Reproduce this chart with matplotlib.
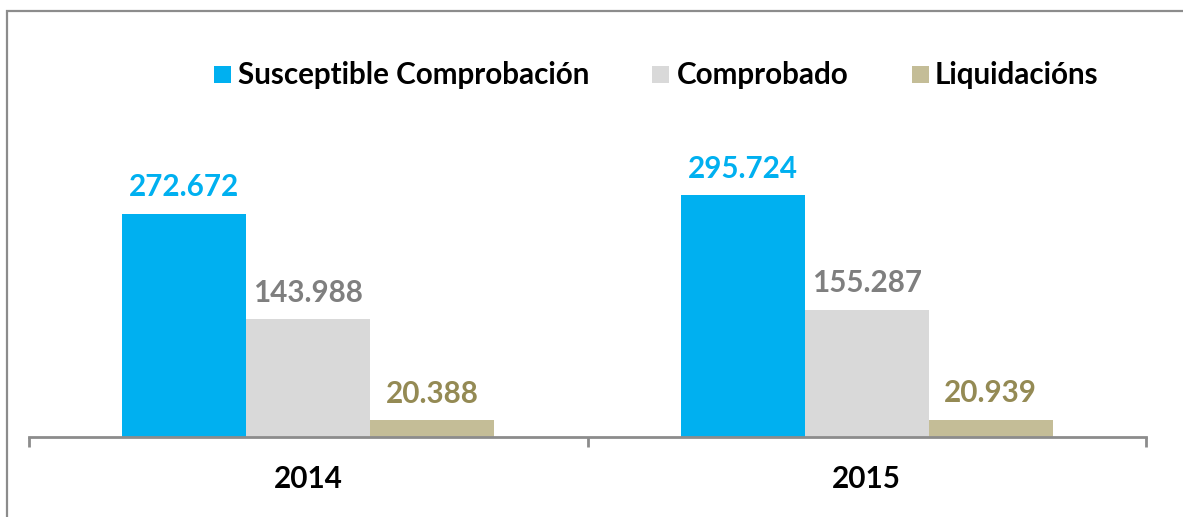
import matplotlib
matplotlib.use("Agg")
import matplotlib.pyplot as plt
from matplotlib.patches import Rectangle

years = ["2014", "2015"]
series_names = ["Susceptible Comprobación", "Comprobado", "Liquidacións"]
susceptible = [272672, 295724]
comprobado = [143988, 155287]
liquidacions = [20388, 20939]
value_labels = [["272.672", "295.724"], ["143.988", "155.287"], ["20.388", "20.939"]]

bar_colors = ["#00B0F0", "#D9D9D9", "#C4BD97"]
label_colors = ["#00B0F0", "#7F7F7F", "#948A54"]
FONT = "Lato"
FS = 21.3

W, H = 1183, 517
fig = plt.figure(figsize=(W / 100, H / 100), dpi=100)
fig.patch.set_facecolor("white")

# outer frame (partially outside the image)
fig.add_artist(Rectangle((7 / W, -0.2), 1.5, 1 - 11 / H + 0.2, transform=fig.transFigure,
                         fill=False, edgecolor="#8C8C8C", linewidth=1.6))

ax = fig.add_axes([29 / W, 1 - 437 / H, 1117 / W, 337 / H])
ax.set_xlim(-0.5, 1.5)
ax.set_ylim(0, 412000)

data = [susceptible, comprobado, liquidacions]
bw = 0.222
offsets = [-bw, 0, bw]
xs = list(range(len(years)))
for si, vals in enumerate(data):
    pos = [x + offsets[si] for x in xs]
    ax.bar(pos, vals, width=bw, color=bar_colors[si], linewidth=0, zorder=2)
    for p, v, lab in zip(pos, vals, value_labels[si]):
        ax.annotate(lab, (p, v), xytext=(0, 9), textcoords="offset points",
                    ha="center", va="bottom", fontsize=FS, fontweight="bold",
                    color=label_colors[si], family=FONT)

for s in ["top", "right", "left"]:
    ax.spines[s].set_visible(False)
ax.spines["bottom"].set_color("#8C8C8C")
ax.spines["bottom"].set_linewidth(2)
ax.set_yticks([])
ax.set_xticks([-0.5, 0.5, 1.5])
ax.set_xticklabels([])
ax.tick_params(axis="x", length=7, width=2, color="#8C8C8C", direction="out")
ax.set_xticks(xs, minor=True)
ax.set_xticklabels(years, minor=True, fontsize=FS, fontweight="bold", family=FONT)
ax.tick_params(axis="x", which="minor", length=0, pad=20)

# legend
leg_sq = [214, 652, 912]
leg_tx = [238, 677, 935]
for i, name in enumerate(series_names):
    fig.add_artist(Rectangle((leg_sq[i] / W, 1 - 83 / H), 17 / W, 17 / H,
                             transform=fig.transFigure, facecolor=bar_colors[i], edgecolor="none"))
    fig.text(leg_tx[i] / W, 1 - 75 / H, name, ha="left", va="center", fontsize=FS,
             fontweight="bold", family=FONT, color="black")

fig.savefig("out.png", dpi=100)
